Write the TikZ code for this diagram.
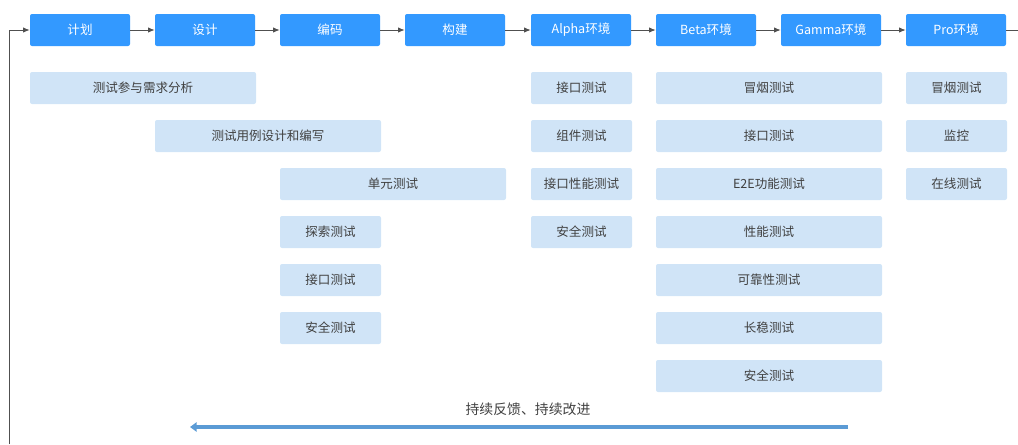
\documentclass[tikz,border=0pt]{standalone}
\usepackage{fontspec}
\setmainfont{Noto Sans CJK SC}
\usetikzlibrary{arrows.meta}
\definecolor{stageblue}{RGB}{51,153,255}
\definecolor{testblue}{RGB}{208,228,247}
\definecolor{feedblue}{RGB}{91,155,213}
\definecolor{txtgray}{RGB}{64,64,64}
\definecolor{linegray}{RGB}{80,80,80}
\tikzset{
  stage/.style={rectangle,rounded corners=1.5pt,fill=stageblue,text=white,
    minimum width=75pt,minimum height=24pt,inner sep=0pt,font=\fontsize{9.4pt}{11pt}\selectfont},
  test/.style={rectangle,rounded corners=1.5pt,fill=testblue,text=txtgray,
    minimum height=24pt,inner sep=0pt,font=\fontsize{9.4pt}{11pt}\selectfont},
  short/.style={test,minimum width=75.75pt},
  long/.style={test,minimum width=169.5pt},
  flow/.style={draw=linegray,line width=0.6pt,-{Latex[length=5pt,width=4pt]}},
  feedback/.style={draw=feedblue,line width=2.8pt,-{Triangle[length=5pt,width=7pt]}}
}

\begin{document}
\begin{tikzpicture}[x=0.75pt,y=-0.75pt]
      \useasboundingbox (0,0) rectangle (1018,444);

      % stages
      \node[stage] (plan) at (80,30) {计划};
      \node[stage] (design) at (205,30) {设计};
      \node[stage] (code) at (330,30) {编码};
      \node[stage] (build) at (455,30) {构建};
      \node[stage] (alpha) at (581,30) {Alpha环境};
      \node[stage] (beta) at (706,30) {Beta环境};
      \node[stage] (gamma) at (831,30) {Gamma环境};
      \node[stage] (pro) at (956,30) {Pro环境};

      % tests
      \node[long] (req) at (143,88) {测试参与需求分析};
      \node[long] (case) at (268,136) {测试用例设计和编写};
      \node[long] (unit) at (393,184) {单元测试};
      \node[short] (explore) at (330.5,232) {探索测试};
      \node[short] (codeapi) at (330.5,280) {接口测试};
      \node[short] (codesec) at (330.5,328) {安全测试};

      \node[short] (alphaapi) at (581.5,88) {接口测试};
      \node[short] (alphacomp) at (581.5,136) {组件测试};
      \node[short] (alphaperf) at (581.5,184) {接口性能测试};
      \node[short] (alphasec) at (581.5,232) {安全测试};

      \node[long] (smoke) at (769,88) {冒烟测试};
      \node[long] (betaapi) at (769,136) {接口测试};
      \node[long] (e2e) at (769,184) {E2E功能测试};
      \node[long] (perf) at (769,232) {性能测试};
      \node[long] (rel) at (769,280) {可靠性测试};
      \node[long] (stab) at (769,328) {长稳测试};
      \node[long] (betasec) at (769,376) {安全测试};

      \node[short] (prosmoke) at (956.5,88) {冒烟测试};
      \node[short] (monitor) at (956.5,136) {监控};
      \node[short] (online) at (956.5,184) {在线测试};

      \coordinate (loopR) at (1018,30);
      \coordinate (loopB) at (9,444);
      \coordinate (loopT) at (9,30);
      \coordinate (fbR) at (848,427);
      \coordinate (fbL) at (190,427);

      \draw[flow] (plan) -- (design);
      \draw[flow] (design) -- (code);
      \draw[flow] (code) -- (build);
      \draw[flow] (build) -- (alpha);
      \draw[flow] (alpha) -- (beta);
      \draw[flow] (beta) -- (gamma);
      \draw[flow] (gamma) -- (pro);
      \draw[draw=linegray,line width=0.6pt] (pro) -- (loopR);
      \draw[flow] (loopB) -- (loopT) -- (plan);

      \draw[feedback] (fbR) -- (fbL);
      \node[text=txtgray,font=\fontsize{10.4pt}{12pt}\selectfont] (fbtext) at (528,409) {持续反馈、持续改进};
\end{tikzpicture}
\end{document}
